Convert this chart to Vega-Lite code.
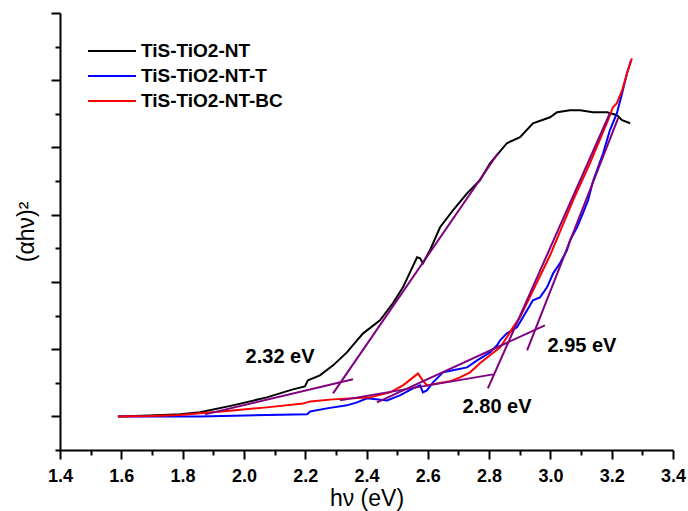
{
  "$schema": "https://vega.github.io/schema/vega-lite/v6.json",
  "width": 613,
  "height": 437,
  "autosize": "none",
  "padding": {"left": 60, "top": 13, "right": 15, "bottom": 61},
  "background": "white",
  "config": {
    "view": {"stroke": null},
    "font": "Liberation Sans",
    "axis": {"grid": false, "domainColor": "black", "domainWidth": 2, "tickColor": "black", "tickWidth": 2, "labelFont": "Liberation Sans", "titleFont": "Liberation Sans", "labelColor": "black", "titleColor": "black"}
  },
  "datasets": {
    "curves": [
      {"s": "TiS-TiO2-NT", "x": 1.589, "y": 0}, {"s": "TiS-TiO2-NT", "x": 1.694, "y": 0.015}, {"s": "TiS-TiO2-NT", "x": 1.792, "y": 0.03}, {"s": "TiS-TiO2-NT", "x": 1.857, "y": 0.06}, {"s": "TiS-TiO2-NT", "x": 1.964, "y": 0.164}, {"s": "TiS-TiO2-NT", "x": 2.075, "y": 0.283}, {"s": "TiS-TiO2-NT", "x": 2.16, "y": 0.402}, {"s": "TiS-TiO2-NT", "x": 2.199, "y": 0.446}, {"s": "TiS-TiO2-NT", "x": 2.209, "y": 0.536}, {"s": "TiS-TiO2-NT", "x": 2.248, "y": 0.61}, {"s": "TiS-TiO2-NT", "x": 2.291, "y": 0.759}, {"s": "TiS-TiO2-NT", "x": 2.336, "y": 0.952}, {"s": "TiS-TiO2-NT", "x": 2.369, "y": 1.131}, {"s": "TiS-TiO2-NT", "x": 2.389, "y": 1.235}, {"s": "TiS-TiO2-NT", "x": 2.444, "y": 1.429}, {"s": "TiS-TiO2-NT", "x": 2.486, "y": 1.682}, {"s": "TiS-TiO2-NT", "x": 2.519, "y": 1.92}, {"s": "TiS-TiO2-NT", "x": 2.548, "y": 2.202}, {"s": "TiS-TiO2-NT", "x": 2.565, "y": 2.366}, {"s": "TiS-TiO2-NT", "x": 2.575, "y": 2.351}, {"s": "TiS-TiO2-NT", "x": 2.584, "y": 2.277}, {"s": "TiS-TiO2-NT", "x": 2.607, "y": 2.47}, {"s": "TiS-TiO2-NT", "x": 2.64, "y": 2.813}, {"s": "TiS-TiO2-NT", "x": 2.682, "y": 3.065}, {"s": "TiS-TiO2-NT", "x": 2.728, "y": 3.318}, {"s": "TiS-TiO2-NT", "x": 2.77, "y": 3.512}, {"s": "TiS-TiO2-NT", "x": 2.803, "y": 3.765}, {"s": "TiS-TiO2-NT", "x": 2.858, "y": 4.063}, {"s": "TiS-TiO2-NT", "x": 2.901, "y": 4.152}, {"s": "TiS-TiO2-NT", "x": 2.943, "y": 4.36}, {"s": "TiS-TiO2-NT", "x": 2.999, "y": 4.449}, {"s": "TiS-TiO2-NT", "x": 3.022, "y": 4.524}, {"s": "TiS-TiO2-NT", "x": 3.064, "y": 4.554}, {"s": "TiS-TiO2-NT", "x": 3.097, "y": 4.554}, {"s": "TiS-TiO2-NT", "x": 3.139, "y": 4.524}, {"s": "TiS-TiO2-NT", "x": 3.185, "y": 4.524}, {"s": "TiS-TiO2-NT", "x": 3.217, "y": 4.479}, {"s": "TiS-TiO2-NT", "x": 3.234, "y": 4.405}, {"s": "TiS-TiO2-NT", "x": 3.26, "y": 4.36},

      {"s": "TiS-TiO2-NT-T", "x": 1.589, "y": 0}, {"s": "TiS-TiO2-NT-T", "x": 1.857, "y": 0}, {"s": "TiS-TiO2-NT-T", "x": 2.206, "y": 0.03}, {"s": "TiS-TiO2-NT-T", "x": 2.216, "y": 0.074}, {"s": "TiS-TiO2-NT-T", "x": 2.271, "y": 0.119}, {"s": "TiS-TiO2-NT-T", "x": 2.336, "y": 0.164}, {"s": "TiS-TiO2-NT-T", "x": 2.369, "y": 0.208}, {"s": "TiS-TiO2-NT-T", "x": 2.402, "y": 0.268}, {"s": "TiS-TiO2-NT-T", "x": 2.467, "y": 0.238}, {"s": "TiS-TiO2-NT-T", "x": 2.509, "y": 0.313}, {"s": "TiS-TiO2-NT-T", "x": 2.552, "y": 0.417}, {"s": "TiS-TiO2-NT-T", "x": 2.575, "y": 0.461}, {"s": "TiS-TiO2-NT-T", "x": 2.584, "y": 0.357}, {"s": "TiS-TiO2-NT-T", "x": 2.597, "y": 0.387}, {"s": "TiS-TiO2-NT-T", "x": 2.617, "y": 0.506}, {"s": "TiS-TiO2-NT-T", "x": 2.65, "y": 0.655}, {"s": "TiS-TiO2-NT-T", "x": 2.682, "y": 0.685}, {"s": "TiS-TiO2-NT-T", "x": 2.728, "y": 0.729}, {"s": "TiS-TiO2-NT-T", "x": 2.761, "y": 0.833}, {"s": "TiS-TiO2-NT-T", "x": 2.803, "y": 0.952}, {"s": "TiS-TiO2-NT-T", "x": 2.826, "y": 1.057}, {"s": "TiS-TiO2-NT-T", "x": 2.836, "y": 1.131}, {"s": "TiS-TiO2-NT-T", "x": 2.858, "y": 1.235}, {"s": "TiS-TiO2-NT-T", "x": 2.891, "y": 1.324}, {"s": "TiS-TiO2-NT-T", "x": 2.924, "y": 1.577}, {"s": "TiS-TiO2-NT-T", "x": 2.943, "y": 1.726}, {"s": "TiS-TiO2-NT-T", "x": 2.966, "y": 1.771}, {"s": "TiS-TiO2-NT-T", "x": 2.989, "y": 1.92}, {"s": "TiS-TiO2-NT-T", "x": 3.009, "y": 2.128}, {"s": "TiS-TiO2-NT-T", "x": 3.031, "y": 2.277}, {"s": "TiS-TiO2-NT-T", "x": 3.054, "y": 2.47}, {"s": "TiS-TiO2-NT-T", "x": 3.064, "y": 2.619}, {"s": "TiS-TiO2-NT-T", "x": 3.087, "y": 2.813}, {"s": "TiS-TiO2-NT-T", "x": 3.106, "y": 3.021}, {"s": "TiS-TiO2-NT-T", "x": 3.123, "y": 3.214}, {"s": "TiS-TiO2-NT-T", "x": 3.139, "y": 3.497}, {"s": "TiS-TiO2-NT-T", "x": 3.172, "y": 3.914}, {"s": "TiS-TiO2-NT-T", "x": 3.194, "y": 4.256}, {"s": "TiS-TiO2-NT-T", "x": 3.217, "y": 4.509}, {"s": "TiS-TiO2-NT-T", "x": 3.234, "y": 4.807}, {"s": "TiS-TiO2-NT-T", "x": 3.25, "y": 5.104}, {"s": "TiS-TiO2-NT-T", "x": 3.263, "y": 5.298},

      {"s": "TiS-TiO2-NT-BC", "x": 1.589, "y": 0}, {"s": "TiS-TiO2-NT-BC", "x": 1.694, "y": 0.005}, {"s": "TiS-TiO2-NT-BC", "x": 1.792, "y": 0.02}, {"s": "TiS-TiO2-NT-BC", "x": 1.857, "y": 0.045}, {"s": "TiS-TiO2-NT-BC", "x": 1.964, "y": 0.089}, {"s": "TiS-TiO2-NT-BC", "x": 2.075, "y": 0.134}, {"s": "TiS-TiO2-NT-BC", "x": 2.193, "y": 0.193}, {"s": "TiS-TiO2-NT-BC", "x": 2.206, "y": 0.208}, {"s": "TiS-TiO2-NT-BC", "x": 2.216, "y": 0.223}, {"s": "TiS-TiO2-NT-BC", "x": 2.291, "y": 0.253}, {"s": "TiS-TiO2-NT-BC", "x": 2.356, "y": 0.27}, {"s": "TiS-TiO2-NT-BC", "x": 2.411, "y": 0.283}, {"s": "TiS-TiO2-NT-BC", "x": 2.477, "y": 0.357}, {"s": "TiS-TiO2-NT-BC", "x": 2.519, "y": 0.461}, {"s": "TiS-TiO2-NT-BC", "x": 2.552, "y": 0.58}, {"s": "TiS-TiO2-NT-BC", "x": 2.568, "y": 0.64}, {"s": "TiS-TiO2-NT-BC", "x": 2.581, "y": 0.551}, {"s": "TiS-TiO2-NT-BC", "x": 2.597, "y": 0.461}, {"s": "TiS-TiO2-NT-BC", "x": 2.63, "y": 0.491}, {"s": "TiS-TiO2-NT-BC", "x": 2.672, "y": 0.521}, {"s": "TiS-TiO2-NT-BC", "x": 2.705, "y": 0.58}, {"s": "TiS-TiO2-NT-BC", "x": 2.738, "y": 0.655}, {"s": "TiS-TiO2-NT-BC", "x": 2.77, "y": 0.789}, {"s": "TiS-TiO2-NT-BC", "x": 2.803, "y": 0.908}, {"s": "TiS-TiO2-NT-BC", "x": 2.836, "y": 1.027}, {"s": "TiS-TiO2-NT-BC", "x": 2.858, "y": 1.176}, {"s": "TiS-TiO2-NT-BC", "x": 2.878, "y": 1.324}, {"s": "TiS-TiO2-NT-BC", "x": 2.901, "y": 1.473}, {"s": "TiS-TiO2-NT-BC", "x": 2.999, "y": 2.396}, {"s": "TiS-TiO2-NT-BC", "x": 3.074, "y": 3.214}, {"s": "TiS-TiO2-NT-BC", "x": 3.129, "y": 3.765}, {"s": "TiS-TiO2-NT-BC", "x": 3.188, "y": 4.405}, {"s": "TiS-TiO2-NT-BC", "x": 3.204, "y": 4.598}, {"s": "TiS-TiO2-NT-BC", "x": 3.217, "y": 4.658}, {"s": "TiS-TiO2-NT-BC", "x": 3.234, "y": 4.851}, {"s": "TiS-TiO2-NT-BC", "x": 3.25, "y": 5.104}, {"s": "TiS-TiO2-NT-BC", "x": 3.266, "y": 5.327}
    ],
    "tangents": [
      {"seg": "A", "x": 1.873, "y": 0.03}, {"seg": "A", "x": 2.356, "y": 0.551},
      {"seg": "B", "x": 2.291, "y": 0.342}, {"seg": "B", "x": 2.829, "y": 3.914},
      {"seg": "C", "x": 2.314, "y": 0.238}, {"seg": "C", "x": 2.813, "y": 0.625},
      {"seg": "D", "x": 2.796, "y": 0.417}, {"seg": "D", "x": 3.194, "y": 4.509},
      {"seg": "E", "x": 2.434, "y": 0.208}, {"seg": "E", "x": 2.982, "y": 1.354},
      {"seg": "F", "x": 2.924, "y": 0.982}, {"seg": "F", "x": 3.221, "y": 4.435}
    ],
    "labels": [
      {"t": "2.32 eV", "x": 2.118, "y": 0.878},
      {"t": "2.80 eV", "x": 2.826, "y": 0.134},
      {"t": "2.95 eV", "x": 3.103, "y": 1.04}
    ]
  },
  "encoding": {
    "x": {"field": "x", "type": "quantitative", "scale": {"domain": [1.4, 3.4], "nice": false, "zero": false},
      "axis": {"title": "hν (eV)", "titleFontSize": 23, "titleFontWeight": "normal", "titlePadding": 2,
        "values": [1.4,1.5,1.6,1.7,1.8,1.9,2.0,2.1,2.2,2.3,2.4,2.5,2.6,2.7,2.8,2.9,3.0,3.1,3.2,3.3,3.4],
        "labelExpr": "round(datum.value*10)%2===0 ? format(datum.value,'.1f') : ''",
        "labelFontSize": 18, "labelFontWeight": "bold", "labelPadding": 8, "labelOverlap": false, "labelFlush": false,
        "tickSize": {"condition": {"test": "round(datum.value*10)%2===0", "value": 9}, "value": 5}}},
    "y": {"field": "y", "type": "quantitative", "scale": {"domain": [-0.5, 6], "nice": false, "zero": false},
      "axis": {"title": "(αhν)²", "titleFontSize": 23, "titleFontWeight": "normal", "titlePadding": 12,
        "values": [-0.5,0,0.5,1,1.5,2,2.5,3,3.5,4,4.5,5,5.5,6], "labels": false,
        "tickSize": {"condition": {"test": "round(datum.value*2)%2===0", "value": 9}, "value": 5}}}
  },
  "layer": [
    {
      "data": {"name": "curves"},
      "mark": {"type": "line", "strokeWidth": 2, "interpolate": "linear"},
      "encoding": {
        "color": {"field": "s", "type": "nominal",
          "scale": {"domain": ["TiS-TiO2-NT", "TiS-TiO2-NT-T", "TiS-TiO2-NT-BC"], "range": ["#000000", "#0000ff", "#ff0000"]},
          "legend": {"title": null, "orient": "none", "legendX": 27, "legendY": 25, "symbolType": "M-1,0H3", "symbolSize": 576, "symbolStrokeWidth": 2, "symbolFillColor": "transparent", "labelFontSize": 19, "labelFontWeight": "bold", "labelFont": "Liberation Sans", "labelColor": "black", "labelOffset": 28, "padding": 0, "rowPadding": 2}},
        "order": {"field": "x", "type": "quantitative"}
      }
    },
    {
      "data": {"name": "tangents"},
      "mark": {"type": "line", "strokeWidth": 2, "color": "#800080"},
      "encoding": {"detail": {"field": "seg", "type": "nominal"}}
    },
    {
      "data": {"name": "labels"},
      "mark": {"type": "text", "fontSize": 20, "fontWeight": "bold", "font": "Liberation Sans", "align": "center", "baseline": "middle", "color": "black"},
      "encoding": {"text": {"field": "t", "type": "nominal"}}
    }
  ]
}
